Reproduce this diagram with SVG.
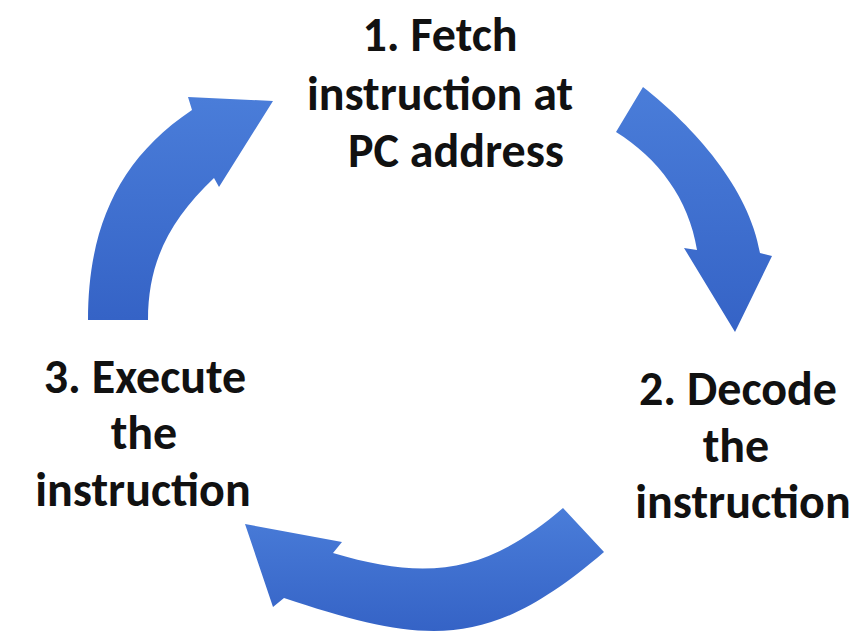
<svg xmlns="http://www.w3.org/2000/svg" width="854" height="631" viewBox="0 0 854 631">
<defs>
<linearGradient id="blue" x1="0" y1="0" x2="0" y2="1">
<stop offset="0" stop-color="#4a7dd9"/>
<stop offset="1" stop-color="#3563c6"/>
</linearGradient>
<style>
.arrow{fill:url(#blue);}
.lbl{font-family:Carlito,Lato,"Liberation Sans",sans-serif;font-weight:bold;font-size:48px;fill:#111111;text-anchor:middle;}
</style>
</defs>
<rect width="854" height="631" fill="#ffffff"/>
<g id="connectors">
<path id="arrow-fetch-decode" class="arrow" d="M643,87 C694,127 749,188 760,253 L772,256 L735,332 L684,248 L697,250 C689,199 658,158 616,132 Z"/>
<path id="arrow-decode-execute" class="arrow" d="M563,508 L604,552 C490,649.5 429.5,646.5 284,598 L273,607 L245,524 L342,542 L333,553 C428.8,581.7 487,573 563,508 Z"/>
<path id="arrow-execute-fetch" class="arrow" d="M88,320 C88,230 117,160 192,110 L188,97 L273,101 L219,187 L214,178 C171,219 148,260 148,320 Z"/>
</g>
<g id="node-fetch">
<text class="lbl" x="440" y="51">1. Fetch</text>
<text class="lbl" x="440" y="110">instruction at</text>
<text class="lbl" x="456" y="167">PC address</text>
</g>
<g id="node-decode">
<text class="lbl" x="738" y="405">2. Decode</text>
<text class="lbl" x="736" y="462">the</text>
<text class="lbl" x="743" y="518">instruction</text>
</g>
<g id="node-execute">
<text class="lbl" x="145" y="393">3. Execute</text>
<text class="lbl" x="144" y="449">the</text>
<text class="lbl" x="143" y="506">instruction</text>
</g>
</svg>
